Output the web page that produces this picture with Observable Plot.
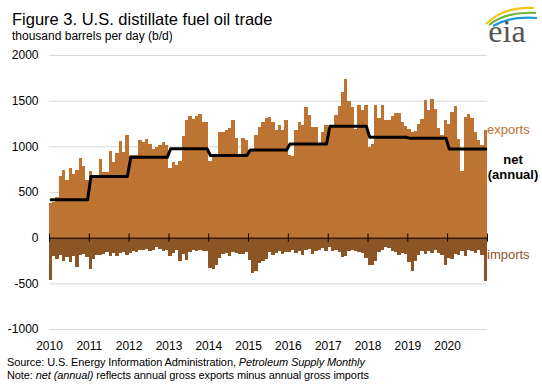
<!DOCTYPE html>
<html><head><meta charset="utf-8">
<script src="https://cdn.jsdelivr.net/npm/d3@7"></script>
<script src="https://cdn.jsdelivr.net/npm/@observablehq/plot@0.6"></script>
<style>
body{margin:0;background:#fff;font-family:"Liberation Sans",Arial,sans-serif;}
#wrap{position:relative;width:542px;height:392px;overflow:hidden;background:#fff;}
.t{position:absolute;white-space:nowrap;line-height:1;}
#title{left:12px;top:11px;font-size:16.5px;color:#000;}
#sub{left:12px;top:30px;font-size:12px;color:#000;}
#chart{position:absolute;left:0;top:45px;}
.cap{left:7px;font-size:11px;color:#000;letter-spacing:-0.1px;}
#lexp{left:487px;top:123px;font-size:13px;color:#bd7331;}
#lnet{left:513px;top:153px;font-size:13px;font-weight:bold;transform:translateX(-50%);}
#lann{left:513px;top:167.5px;font-size:13px;font-weight:bold;transform:translateX(-50%);}
#limp{left:487px;top:248px;font-size:13px;color:#8c5526;}
#logo{position:absolute;left:474px;top:2px;overflow:visible;}
</style></head>
<body><div id="wrap">
<div class="t" id="title">Figure 3. U.S. distillate fuel oil trade</div>
<div class="t" id="sub">thousand barrels per day (b/d)</div>
<div id="chart"></div>
<div class="t" id="lexp">exports</div>
<div class="t" id="lnet">net</div>
<div class="t" id="lann">(annual)</div>
<div class="t" id="limp">imports</div>
<div class="t cap" style="top:357px">Source: U.S. Energy Information Administration, <i>Petroleum Supply Monthly</i></div>
<div class="t cap" style="top:369.5px">Note: <i>net (annual)</i> reflects annual gross exports minus annual gross imports</div>
<svg id="logo" width="66" height="52" viewBox="0 0 66 52">
  <path d="M12 22 Q30 4 60 6" fill="none" stroke="#f2c40f" stroke-width="2.2"/>
  <path d="M15 23 Q33 9 62 11" fill="none" stroke="#6db33f" stroke-width="2.2"/>
  <path d="M19 24 Q36 14 63 16" fill="none" stroke="#1d9ad6" stroke-width="2.2"/>
  <text x="33" y="40" text-anchor="middle" font-family="Liberation Serif, DejaVu Serif, serif" font-size="32" fill="#555">eia</text>
</svg>
</div>
<script>
const years = [2010,2011,2012,2013,2014,2015,2016,2017,2018,2019,2020];
const yTicks = [-1000,-500,0,500,1000,1500,2000];
const exportsMonthly = [
 385,390,440,675,745,630,760,700,745,870,785,630,
 730,650,650,860,715,715,945,830,930,1055,935,1120,
 910,900,905,1065,1045,1075,1030,975,995,1020,1045,1010,
 760,830,800,835,1110,1285,1335,1295,1335,1350,1265,1265,
 840,920,915,1155,1155,1175,1200,1285,1090,910,1090,1070,
 955,950,1120,1210,1265,1310,1320,1265,1175,1235,1175,1290,
 900,895,1180,1265,1230,1435,1340,1210,1210,1040,1155,1230,
 1190,1210,1345,1445,1600,1735,1500,1430,1190,1455,1400,1455,
 995,1030,1455,1310,1455,1290,1290,1330,1360,1360,1270,1220,
 1190,1155,1170,1250,1300,1510,1400,1520,1405,1200,1125,1290,
 1250,1380,1445,1080,735,1320,1350,1310,1160,1070,1010,1180
];
const importsMonthly = [
 -465,-200,-235,-195,-260,-215,-270,-200,-320,-190,-175,-210,
 -340,-230,-185,-190,-175,-160,-200,-165,-200,-170,-160,-190,
 -165,-150,-160,-130,-140,-120,-150,-130,-105,-120,-150,-130,
 -200,-165,-140,-250,-175,-240,-160,-140,-150,-130,-150,-145,
 -330,-340,-300,-220,-180,-170,-200,-160,-170,-180,-175,-160,
 -240,-390,-360,-280,-250,-230,-160,-190,-170,-150,-180,-160,
 -160,-130,-170,-150,-190,-140,-120,-175,-145,-140,-110,-150,
 -100,-150,-130,-160,-215,-200,-150,-140,-150,-160,-170,-220,
 -300,-300,-250,-160,-140,-100,-110,-150,-160,-190,-165,-180,
 -270,-360,-250,-190,-150,-180,-150,-170,-140,-170,-185,-300,
 -220,-230,-180,-190,-150,-200,-130,-150,-170,-140,-190,-470
];
const netAnnual = [420,675,885,980,905,965,1030,1225,1105,1095,975];

const exportColor = "#bd7331";
const importColor = "#8c5526";

const start = new Date(Date.UTC(years[0],0,1));
const data = exportsMonthly.map((v,i)=>{
  const d0 = d3.utcMonth.offset(start,i), d1 = d3.utcMonth.offset(start,i+1);
  return {date:d0, end:d1, mid:new Date((+d0 + +d1)/2), exports:v, imports:importsMonthly[i], net:netAnnual[Math.floor(i/12)]};
});
const yearDates = years.map(y=>new Date(Date.UTC(y,0,1)));
const tickDates = [...yearDates, new Date(Date.UTC(years[years.length-1]+1,0,1))];

const chart = Plot.plot({
  width:542, height:310, marginLeft:49, marginRight:55, marginTop:10, marginBottom:26,
  x:{type:"utc", domain:[tickDates[0], tickDates[tickDates.length-1]]},
  y:{domain:[-1000,2000]},
  style:{fontFamily:"Liberation Sans, Arial, sans-serif", fontSize:"12px", color:"#000", background:"transparent", overflow:"visible"},
  marks:[
    Plot.ruleY(yTicks.filter(d=>d!==0), {stroke:"#d9d9d9", strokeWidth:1}),
    Plot.rect(data, {x1:"date", x2:"end", y1:0, y2:"exports", fill:exportColor, shapeRendering:"crispEdges"}),
    Plot.rect(data, {x1:"date", x2:"end", y1:0, y2:"imports", fill:importColor, shapeRendering:"crispEdges"}),
    Plot.ruleY([0], {stroke:"#000", strokeWidth:1}),
    Plot.ruleX(tickDates, {x:d=>d, y1:-45, y2:45, stroke:"#000", strokeWidth:1}),
    Plot.line(data, {x:"mid", y:"net", stroke:"#000", strokeWidth:3}),
    Plot.axisY({ticks:yTicks, tickSize:0, tickPadding:11, tickFormat:d=>String(d), fontSize:12}),
    Plot.axisX({ticks:yearDates, tickSize:0, tickPadding:12, tickFormat:d3.utcFormat("%Y"), fontSize:12})
  ]
});
document.getElementById("chart").appendChild(chart);
</script>
</body></html>
